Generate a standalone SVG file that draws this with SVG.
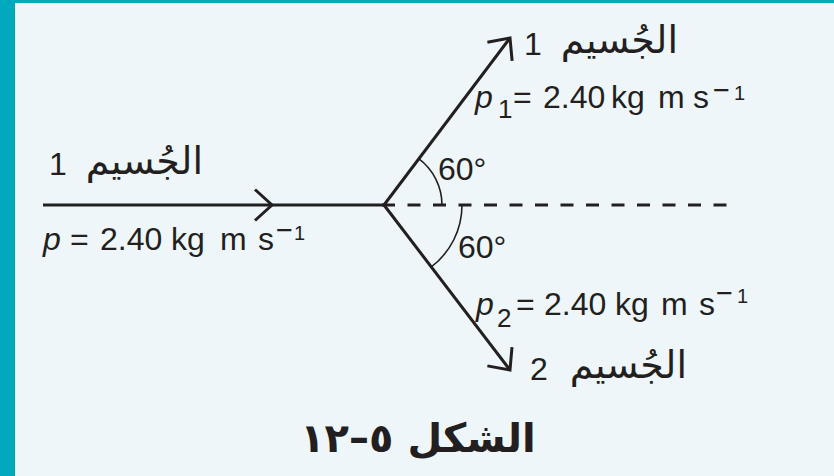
<svg xmlns="http://www.w3.org/2000/svg" width="834" height="476" viewBox="0 0 834 476">
<style>
.bg{fill:#eef6f9}
.frame{fill:#00a9bb}
.ln{stroke:#231f20;stroke-width:3;fill:none}
.dash{stroke:#231f20;stroke-width:3;stroke-dasharray:13 12.5;fill:none}
.arc{stroke:#231f20;stroke-width:1.6;fill:none}
.t{font-family:"Liberation Sans",Arial,sans-serif;font-size:32px;fill:#231f20}
.i{font-style:italic}
.mn{font-size:29px}
.sup{font-size:20px}
.sub{font-size:26px}
.ar{font-family:"DejaVu Sans",sans-serif;font-size:38px;fill:#231f20}
.cap{font-family:"DejaVu Sans",sans-serif;font-size:40px;font-weight:bold;fill:#231f20}
</style>
<defs>
<marker id="chev" markerUnits="userSpaceOnUse" markerWidth="40" markerHeight="40" refX="0" refY="0" orient="auto" overflow="visible">
<path d="M-17,-15.5 L0,0 L-17,15.5" stroke="#231f20" stroke-width="3" fill="none"/>
</marker>
</defs>
<rect class="bg" x="0" y="0" width="834" height="476"/>
<rect class="frame" x="0" y="0" width="834" height="3"/>
<rect class="frame" x="0" y="0" width="15" height="476"/>

<g id="connectors">
<path class="dash" d="M382,205 L728,205"/>
<path class="ln" d="M43,205 L272,205 L384,205" marker-mid="url(#chev)"/>
<path class="ln" d="M384,205 L510,38" marker-end="url(#chev)"/>
<path class="ln" d="M384,205 L510,370" marker-end="url(#chev)"/>
<path class="arc" d="M418.7,158.6 A58,58 0 0 1 442,205"/>
<path class="arc" d="M462,205 A78,78 0 0 1 431,267.2"/>
</g>

<g id="incoming">
<text class="t" x="49" y="175">1</text>
<text class="ar" x="203" y="174" text-anchor="end">الجُسيم</text>
<text class="t" y="250"><tspan class="i" x="43">p</tspan><tspan x="70">=</tspan><tspan x="100">2.40</tspan><tspan x="171">kg</tspan><tspan x="220">m</tspan><tspan x="258">s</tspan><tspan class="mn" x="276" y="240">−</tspan><tspan class="sup" x="294" y="240">1</tspan></text>
</g>

<g id="particle1">
<text class="t" x="524" y="55">1</text>
<text class="ar" x="678" y="53" text-anchor="end">الجُسيم</text>
<text class="t" y="108"><tspan class="i" x="475">p</tspan><tspan class="sub" x="498" y="118">1</tspan><tspan x="513" y="108">=</tspan><tspan x="543">2.40</tspan><tspan x="611">kg</tspan><tspan x="658">m</tspan><tspan x="693">s</tspan><tspan class="mn" x="713" y="100">−</tspan><tspan class="sup" x="734" y="100">1</tspan></text>
</g>

<g id="particle2">
<text class="t" x="530" y="380">2</text>
<text class="ar" x="687" y="378" text-anchor="end">الجُسيم</text>
<text class="t" y="315"><tspan class="i" x="476">p</tspan><tspan class="sub" x="497" y="327">2</tspan><tspan x="516" y="315">=</tspan><tspan x="544">2.40</tspan><tspan x="615">kg</tspan><tspan x="661">m</tspan><tspan x="699">s</tspan><tspan class="mn" x="716" y="303">−</tspan><tspan class="sup" x="737" y="303">1</tspan></text>
</g>

<g id="angle-upper">
<text class="t" x="438" y="180">60°</text>
</g>
<g id="angle-lower">
<text class="t" x="458" y="258">60°</text>
</g>

<g id="caption">
<text class="cap" x="418" y="452" text-anchor="middle" direction="rtl">الشكل ٥–١٢</text>
</g>
</svg>
